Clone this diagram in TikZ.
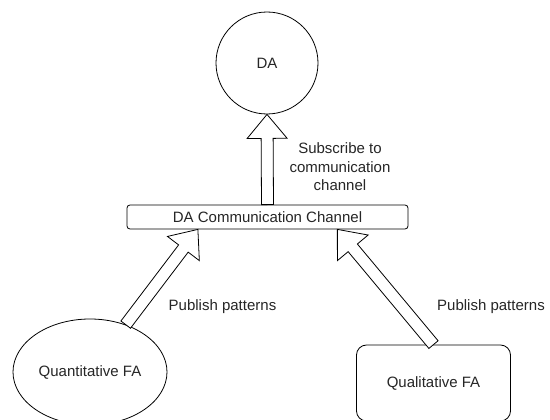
\documentclass[tikz,border=0pt]{standalone}
\usepackage{fontspec}
\setmainfont{Liberation Sans}
\usetikzlibrary{calc,shapes.geometric}

\tikzset{
  base/.style={draw=black, line width=0.8pt, fill=white, inner sep=0pt,
    font=\fontsize{15}{18.5}\selectfont, text=black!85},
  agent/.style={base, circle, minimum size=102pt},
  channel/.style={base, rectangle, rounded corners=3pt, minimum width=281pt, minimum height=24pt},
  quantbox/.style={base, ellipse, minimum width=154pt, minimum height=106pt},
  qualbox/.style={base, rectangle, rounded corners=10pt, minimum width=154pt, minimum height=76pt},
  flow/.style={draw=black, line width=0.8pt, fill=white, line join=miter},
  note/.style={font=\fontsize{15}{18.5}\selectfont, text=black!85, align=center, inner sep=0pt},
}

% Hollow block arrow from #1 to #2 (both named coordinates or anchors)
\newcommand\blockarrow[2]{%
  \coordinate (hb) at ($(#2)!24pt!(#1)$);
  \path[flow] ($(#1)!6pt!90:(#2)$) -- ($(hb)!6pt!90:(#2)$) -- ($(hb)!20pt!90:(#2)$)
    -- (#2) -- ($(hb)!20pt!-90:(#2)$) -- ($(hb)!6pt!-90:(#2)$) -- ($(#1)!6pt!-90:(#2)$) -- cycle;
}

\begin{document}
\begin{tikzpicture}[x=1pt, y=-1pt]
  \clip (0,0) rectangle (550,420);
  \fill[white] (0,0) rectangle (550,420);

  \node[agent] (da) at (267,63) {DA};
  \node[channel] (ch) at (267.5,217) {DA Communication Channel};
  \node[quantbox] (qn) at (90,372) {Quantitative FA};
  \node[qualbox] (ql) at (433.5,383) {Qualitative FA};

  \coordinate (chL) at ($(ch.south west)!0.253!(ch.south east)$);
  \coordinate (chR) at ($(ch.south west)!0.748!(ch.south east)$);

  \blockarrow{ch.north}{da.south}
  \blockarrow{qn.53}{chL}
  \blockarrow{ql.north}{chR}

  \node[note] (lsub) at (340,167) {Subscribe to\\communication\\channel};
  \node[note] (lpub1) at (222.5,307) {Publish patterns};
  \node[note] (lpub2) at (491,307) {Publish patterns};
\end{tikzpicture}
\end{document}
